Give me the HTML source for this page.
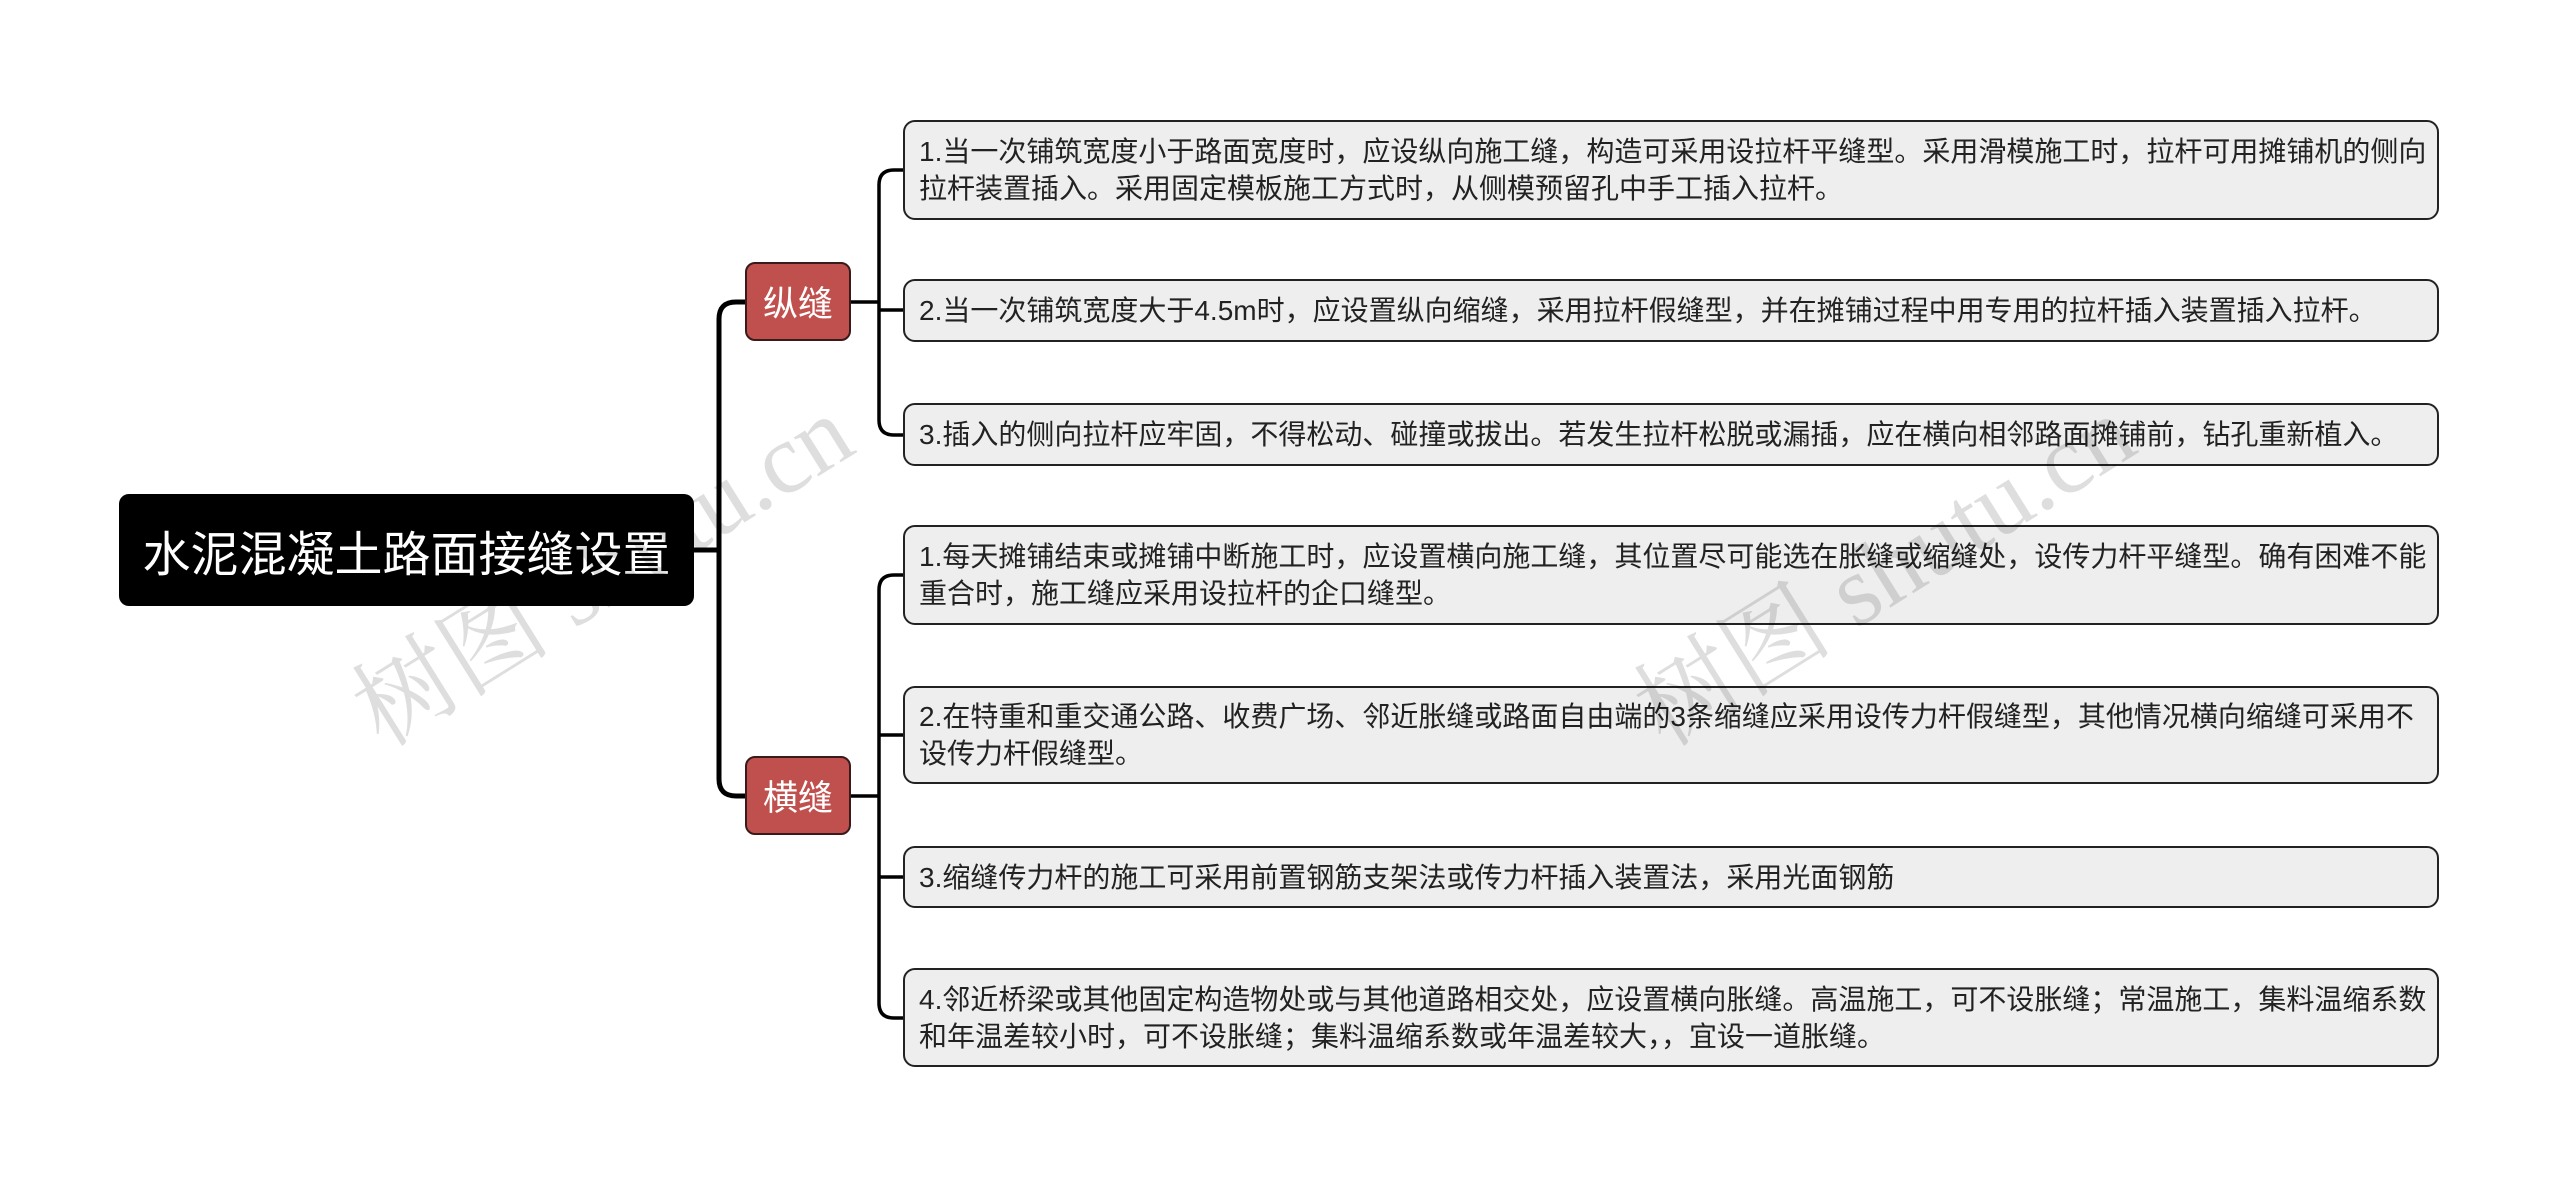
<!DOCTYPE html>
<html><head><meta charset="utf-8"><style>
html,body{margin:0;padding:0;background:#fff;}
body{width:2560px;height:1187px;position:relative;overflow:hidden;font-family:"Liberation Sans","Noto Sans CJK SC",sans-serif;}
.root{position:absolute;left:119px;top:494px;width:575px;height:112px;background:#000;border-radius:10px;color:#fff;font-size:48px;display:flex;align-items:center;justify-content:center;}
.br{position:absolute;left:745px;width:106px;height:79px;background:#c0504d;border:2px solid #3a1a1a;border-radius:10px;color:#fff;font-size:35px;display:flex;align-items:center;justify-content:center;box-sizing:border-box;}
.lf{position:absolute;left:903px;width:1536px;background:#eeeeee;border:2px solid #222;border-radius:12px;box-sizing:border-box;color:#222;font-size:28px;line-height:37px;padding:0 2px 0 14px;display:flex;align-items:center;}
.wm{position:absolute;font-family:"Liberation Serif","Noto Serif CJK SC",serif;font-size:100px;color:rgba(0,0,0,0.13);transform-origin:left center;transform:rotate(-32deg);white-space:nowrap;}
</style></head><body>
<svg width="2560" height="1187" style="position:absolute;left:0;top:0">
<g fill="none" stroke="#000" stroke-width="5">
<path d="M694 550 H719"/>
<path d="M745 302 H736 Q719 302 719 319 V779 Q719 796 736 796 H745"/>
</g>
<g fill="none" stroke="#000" stroke-width="3.5">
<path d="M851 302 H879"/>
<path d="M903 170 H894 Q879 170 879 185 V420 Q879 435 894 435 H903"/>
<path d="M879 310 H903"/>
<path d="M851 796 H879"/>
<path d="M903 575 H894 Q879 575 879 590 V1003 Q879 1018 894 1018 H903"/>
<path d="M879 735 H903"/>
<path d="M879 877 H903"/>
</g>
</svg>
<div class="root">水泥混凝土路面接缝设置</div>
<div class="br" style="top:262px">纵缝</div>
<div class="br" style="top:756px">横缝</div>
<div class="lf" style="top:120px;height:100px">1.当一次铺筑宽度小于路面宽度时，应设纵向施工缝，构造可采用设拉杆平缝型。采用滑模施工时，拉杆可用摊铺机的侧向拉杆装置插入。采用固定模板施工方式时，从侧模预留孔中手工插入拉杆。</div>
<div class="lf" style="top:279px;height:63px">2.当一次铺筑宽度大于4.5m时，应设置纵向缩缝，采用拉杆假缝型，并在摊铺过程中用专用的拉杆插入装置插入拉杆。</div>
<div class="lf" style="top:403px;height:63px">3.插入的侧向拉杆应牢固，不得松动、碰撞或拔出。若发生拉杆松脱或漏插，应在横向相邻路面摊铺前，钻孔重新植入。</div>
<div class="lf" style="top:525px;height:100px">1.每天摊铺结束或摊铺中断施工时，应设置横向施工缝，其位置尽可能选在胀缝或缩缝处，设传力杆平缝型。确有困难不能重合时，施工缝应采用设拉杆的企口缝型。</div>
<div class="lf" style="top:686px;height:98px">2.在特重和重交通公路、收费广场、邻近胀缝或路面自由端的3条缩缝应采用设传力杆假缝型，其他情况横向缩缝可采用不设传力杆假缝型。</div>
<div class="lf" style="top:846px;height:62px">3.缩缝传力杆的施工可采用前置钢筋支架法或传力杆插入装置法，采用光面钢筋</div>
<div class="lf" style="top:968px;height:99px">4.邻近桥梁或其他固定构造物处或与其他道路相交处，应设置横向胀缝。高温施工，可不设胀缝；常温施工，集料温缩系数和年温差较小时，可不设胀缝；集料温缩系数或年温差较大，，宜设一道胀缝。</div>
<div class="wm" style="left:360px;top:640px">树图 shutu.cn</div>
<div class="wm" style="left:1642px;top:640px">树图 shutu.cn</div>
</body></html>
